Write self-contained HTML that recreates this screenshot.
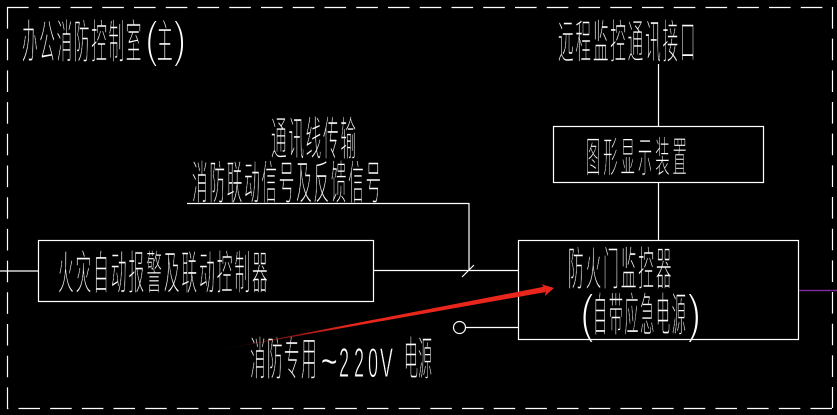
<!DOCTYPE html>
<html><head><meta charset="utf-8"><style>
html,body{margin:0;padding:0;background:#000;width:837px;height:415px;overflow:hidden}
svg{display:block}
text{font-family:"Noto Sans CJK SC","WenQuanYi Zen Hei",sans-serif;fill:#fff;font-size:46px;font-weight:300;stroke:#000;stroke-width:.6px}
text.l{font-family:"Liberation Sans",sans-serif;font-weight:400;stroke-width:2px}
text.d{font-family:"Liberation Sans",sans-serif;font-weight:400;font-size:42px;stroke-width:.9px}
</style></head><body>
<svg width="837" height="415" viewBox="0 0 837 415" xmlns="http://www.w3.org/2000/svg">
<defs><linearGradient id="g" gradientUnits="userSpaceOnUse" x1="213" y1="351" x2="345" y2="327"><stop offset="0" stop-color="#e8261c" stop-opacity="0"/><stop offset="1" stop-color="#e8261c"/></linearGradient></defs>
<rect width="837" height="415" fill="#000"/>
<g>
<text transform="translate(22 58) scale(.34 1)" letter-spacing="4.9">办公消防控制室</text>
<text class="l" transform="translate(145 56.5) scale(.8 1)" style="font-size:50px">(</text>
<text transform="translate(157 58) scale(.34 1)">主</text>
<text class="l" transform="translate(173 56.5) scale(.8 1)" style="font-size:50px">)</text>
<text transform="translate(271 155) scale(.34 1)" letter-spacing="5">通讯线传输</text>
<text transform="translate(192 199) scale(.34 1)" letter-spacing="5.06">消防联动信号及反馈信号</text>
<text transform="translate(558 58) scale(.34 1)" letter-spacing="5.25">远程监控通讯接口</text>
<text transform="translate(586 172) scale(.34 1)" style="font-size:42px;letter-spacing:8.9px">图形显示装置</text>
<text transform="translate(58 289) scale(.34 1)" letter-spacing="5.9">火灾自动报警及联动控制器</text>
<text transform="translate(568 285) scale(.34 1)" letter-spacing="5.7">防火门监控器</text>
<text class="l" transform="translate(580 332) scale(.8 1)" style="font-size:54px">(</text>
<text transform="translate(593 331) scale(.31 1)" letter-spacing="4.7">自带应急电源</text>
<text class="l" transform="translate(687 332) scale(.8 1)" style="font-size:54px">)</text>
<text transform="translate(250 375) scale(.34 1)" letter-spacing="4">消防专用</text>
<text class="d" transform="translate(321 375) scale(.7 1)" style="font-size:40px;stroke-width:.4px">~</text>
<text class="d" transform="translate(339 377) scale(.43 1)">2</text>
<text class="d" transform="translate(354 377) scale(.43 1)">2</text>
<text class="d" transform="translate(368 377) scale(.43 1)">0</text>
<text class="d" transform="translate(380 377) scale(.46 1)">V</text>
<text transform="translate(404 375) scale(.305 1)">电源</text>
</g>
<g fill="none" stroke="#fff" stroke-width="1.2">
<path d="M7 7.5H832.5" stroke-dasharray="21.6 10.15" />
<path d="M7.5 7V409" stroke-dasharray="21.6 10.1" />
<path d="M832 408.5H7" stroke-dasharray="21.5 10.18" />
<path d="M832.5 7V408" stroke-dasharray="21.6 10.07" />
<rect x="38.5" y="240.5" width="335" height="61"/>
<rect x="553.5" y="126.5" width="210" height="56"/>
<rect x="518.5" y="240.5" width="280" height="99"/>
<path d="M0 271H38M373 270.5H518M658.5 64V126M658.5 182V240M187 203.5H469V270.5M462 277L474 265M466 327.5H518"/>
<circle cx="459.5" cy="327.5" r="6"/>
</g>
<path d="M799 290.5H837" stroke="#7a2a9a" stroke-width="1.4"/>
<path d="M213 351L545 286.5L546 292Z" fill="url(#g)"/>
<path d="M541.5 284.3L554 288L545 296L546 290Z" fill="#e8261c"/>
</svg>
</body></html>
